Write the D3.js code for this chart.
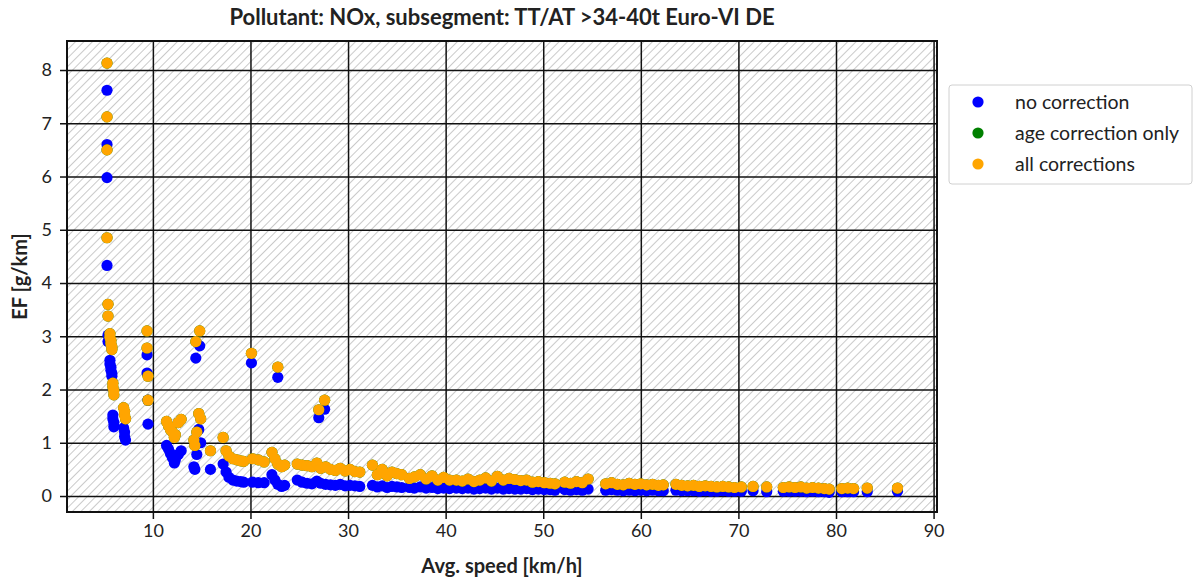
<!DOCTYPE html>
<html>
<head>
<meta charset="utf-8">
<script src="https://cdn.jsdelivr.net/npm/d3@7"></script>
<style>
body { margin: 0; background: #fff; }
svg text { font-family: Lato, "Open Sans", sans-serif; fill: #222; }
</style>
</head>
<body>
<div id="chart"></div>
<script>

// average speed of each traffic situation [km/h]
var speed = [
5.3, 5.3, 5.3, 5.3, 5.4, 5.4, 5.6, 5.6, 5.7, 5.7, 5.8, 5.8, 5.9, 5.9, 6.0, 6.0,
7.0, 7.1, 7.1, 7.2, 9.4, 9.4, 9.5, 9.5,
11.4, 11.6, 11.8, 12.0, 12.2, 12.3, 12.6, 12.9,
14.2, 14.3, 14.4, 14.5, 14.7, 14.8, 14.9, 15.9,
17.2, 17.5, 17.8, 18.2, 18.6, 19.0, 19.3, 20.1, 20.2, 20.8, 21.4,
22.2, 22.5, 22.8, 22.8, 23.2, 23.5,
24.8, 25.3, 25.8, 26.3, 26.8, 27.0, 27.2, 27.6, 27.7, 28.2, 28.7, 29.2, 29.7, 30.2, 30.7, 31.2,
32.5, 33.0, 33.5, 34.0, 34.5, 35.0, 35.5,
36.3, 36.8, 37.4, 38.0, 38.6, 39.2, 39.8, 40.4,
41.1, 41.7, 42.3, 42.9, 43.5, 44.1, 44.7, 45.3, 45.9, 46.5, 47.1, 47.7, 48.3, 48.9, 49.5, 50.1, 50.7, 51.2,
52.2, 52.8, 53.4, 54.0, 54.6,
56.4, 57.0, 57.6, 58.2, 58.8, 59.4, 60.0, 60.6, 61.2, 61.8, 62.3,
63.6, 64.2, 64.8, 65.4, 66.0, 66.6, 67.2, 67.8, 68.4, 69.0, 69.6, 70.3,
71.5, 72.9,
74.6, 75.2, 75.8, 76.4, 77.0, 77.6, 78.2, 78.8, 79.3,
80.6, 81.2, 81.8, 83.2, 86.3
]

// EF [g/km], no correction
var noCorrection = [
7.62, 6.60, 5.98, 4.33, 3.02, 2.90, 2.55, 2.48, 2.42, 2.36, 2.30, 2.25, 1.52, 1.45, 1.38, 1.30,
1.28, 1.20, 1.12, 1.05, 2.65, 2.31, 1.80, 1.35,
0.95, 0.88, 0.80, 0.72, 0.62, 0.68, 0.78, 0.85,
0.55, 0.50, 2.59, 0.78, 1.25, 2.82, 1.00, 0.50,
0.60, 0.45, 0.35, 0.30, 0.28, 0.27, 0.26, 2.50, 0.26, 0.25, 0.25,
0.40, 0.30, 2.23, 0.22, 0.18, 0.20,
0.30, 0.26, 0.24, 0.23, 0.28, 1.47, 0.24, 1.63, 0.22, 0.21, 0.20, 0.22, 0.19, 0.20, 0.19, 0.18,
0.20, 0.17, 0.19, 0.16, 0.18, 0.17, 0.16,
0.16, 0.15, 0.17, 0.15, 0.16, 0.14, 0.15, 0.14,
0.15, 0.14, 0.15, 0.13, 0.14, 0.15, 0.13, 0.15, 0.13, 0.14, 0.13, 0.13, 0.14, 0.12, 0.13, 0.12, 0.12, 0.11,
0.12, 0.11, 0.12, 0.11, 0.13,
0.11, 0.12, 0.11, 0.10, 0.11, 0.10, 0.11, 0.10, 0.11, 0.10, 0.10,
0.11, 0.10, 0.10, 0.10, 0.09, 0.10, 0.09, 0.09, 0.10, 0.09, 0.09, 0.09,
0.10, 0.08,
0.09, 0.09, 0.09, 0.09, 0.08, 0.09, 0.08, 0.08, 0.07,
0.08, 0.08, 0.08, 0.08, 0.09
]

// EF [g/km], age correction only
var ageCorrectionOnly = [
8.13, 7.12, 6.50, 4.85, 3.60, 3.38, 3.05, 2.98, 2.92, 2.86, 2.80, 2.75, 2.12, 2.05, 1.98, 1.90,
1.66, 1.59, 1.52, 1.45, 3.10, 2.78, 2.25, 1.80,
1.40, 1.32, 1.25, 1.20, 1.10, 1.15, 1.38, 1.44,
1.05, 0.95, 2.90, 1.20, 1.55, 3.10, 1.45, 0.85,
1.10, 0.85, 0.75, 0.70, 0.68, 0.66, 0.65, 2.68, 0.70, 0.68, 0.64,
0.82, 0.70, 2.42, 0.60, 0.55, 0.58,
0.60, 0.58, 0.57, 0.55, 0.62, 1.62, 0.52, 1.80, 0.55, 0.50, 0.48, 0.52, 0.47, 0.50, 0.46, 0.45,
0.58, 0.40, 0.50, 0.38, 0.45, 0.42, 0.40,
0.33, 0.36, 0.40, 0.32, 0.38, 0.30, 0.35, 0.30,
0.30, 0.28, 0.32, 0.27, 0.30, 0.34, 0.28, 0.37, 0.30, 0.33, 0.31, 0.29, 0.30, 0.26, 0.27, 0.25, 0.24, 0.23,
0.26, 0.24, 0.27, 0.25, 0.32,
0.23, 0.25, 0.22, 0.21, 0.24, 0.22, 0.23, 0.21, 0.22, 0.20, 0.21,
0.22, 0.20, 0.19, 0.20, 0.18, 0.19, 0.18, 0.17, 0.18, 0.17, 0.16, 0.17,
0.18, 0.17,
0.16, 0.17, 0.16, 0.17, 0.15, 0.16, 0.15, 0.14, 0.13,
0.14, 0.15, 0.14, 0.15, 0.15
]

// EF [g/km], all corrections
var allCorrections = [
8.13, 7.12, 6.50, 4.85, 3.60, 3.38, 3.05, 2.98, 2.92, 2.86, 2.80, 2.75, 2.12, 2.05, 1.98, 1.90,
1.66, 1.59, 1.52, 1.45, 3.10, 2.78, 2.25, 1.80,
1.40, 1.32, 1.25, 1.20, 1.10, 1.15, 1.38, 1.44,
1.05, 0.95, 2.90, 1.20, 1.55, 3.10, 1.45, 0.85,
1.10, 0.85, 0.75, 0.70, 0.68, 0.66, 0.65, 2.68, 0.70, 0.68, 0.64,
0.82, 0.70, 2.42, 0.60, 0.55, 0.58,
0.60, 0.58, 0.57, 0.55, 0.62, 1.62, 0.52, 1.80, 0.55, 0.50, 0.48, 0.52, 0.47, 0.50, 0.46, 0.45,
0.58, 0.40, 0.50, 0.38, 0.45, 0.42, 0.40,
0.33, 0.36, 0.40, 0.32, 0.38, 0.30, 0.35, 0.30,
0.30, 0.28, 0.32, 0.27, 0.30, 0.34, 0.28, 0.37, 0.30, 0.33, 0.31, 0.29, 0.30, 0.26, 0.27, 0.25, 0.24, 0.23,
0.26, 0.24, 0.27, 0.25, 0.32,
0.23, 0.25, 0.22, 0.21, 0.24, 0.22, 0.23, 0.21, 0.22, 0.20, 0.21,
0.22, 0.20, 0.19, 0.20, 0.18, 0.19, 0.18, 0.17, 0.18, 0.17, 0.16, 0.17,
0.18, 0.17,
0.16, 0.17, 0.16, 0.17, 0.15, 0.16, 0.15, 0.14, 0.13,
0.14, 0.15, 0.14, 0.15, 0.15
]

var seriesNames = ["no correction", "age correction only", "all corrections"]
var seriesColors = ["#0000ff", "#008000", "#ffa500"]
var seriesValues = [noCorrection, ageCorrectionOnly, allCorrections]

var xTicks = [10, 20, 30, 40, 50, 60, 70, 80, 90]
var yTicks = [0, 1, 2, 3, 4, 5, 6, 7, 8]

var title = "Pollutant: NOx, subsegment: TT/AT >34-40t Euro-VI DE"


var margins = {
top: 41,
bottom: 71,
left: 67,
right: 258
}

var width = 1195 - margins.left - margins.right
var height = 583 - margins.top - margins.bottom

var svg = d3.select("#chart")
.append("svg")
.attr("width", 1195)
.attr("height", 583)

//hatch pattern for the plot background
var pattern = svg.append("defs")
.append("pattern")
.attr("id", "hatch")
.attr("patternUnits", "userSpaceOnUse")
.attr("width", 6)
.attr("height", 6)
.attr("patternTransform", "rotate(45)")

pattern.append("rect")
.attr("width", 6)
.attr("height", 6)
.style("fill", "#fff")

pattern.append("line")
.attr("x1", 0).attr("y1", 0)
.attr("x2", 0).attr("y2", 6)
.style("stroke", "#bdbdbd")
.style("stroke-width", 1.6)

var xScale = d3.scaleLinear().domain([1.2, 90.35]).range([0, width])
var yScale = d3.scaleLinear().domain([-0.3, 8.545]).range([height, 0])

var g = svg.append("g")
.attr("transform", "translate(" + margins.left + "," + margins.top + ")")

g.append("rect")
.attr("width", width)
.attr("height", height)
.style("fill", "url(#hatch)")

//grid lines
g.append("g")
.attr("class", "grid")
.call(d3.axisBottom(xScale).tickValues(xTicks).tickSize(height).tickFormat(""))
.call(function(s){ s.select(".domain").remove() })

g.append("g")
.attr("class", "grid")
.call(d3.axisLeft(yScale).tickValues(yTicks).tickSize(-width).tickFormat(""))
.call(function(s){ s.select(".domain").remove() })

g.selectAll(".grid line")
.style("stroke", "#111")
.style("stroke-width", 1.5)

//points, one layer per series
for(var i = 0; i < seriesValues.length; i++){
var values = seriesValues[i]
g.append("g")
.selectAll("circle")
.data(speed)
.enter()
.append("circle")
.attr("cx", function(d){ return xScale(d) })
.attr("cy", function(d, j){ return yScale(values[j]) })
.attr("r", 5.6)
.style("fill", seriesColors[i])
}

//axes
var xAxis = g.append("g")
.attr("transform", "translate(0," + height + ")")
.call(d3.axisBottom(xScale).tickValues(xTicks).tickSize(7).tickPadding(5))

var yAxis = g.append("g")
.call(d3.axisLeft(yScale).tickValues(yTicks).tickSize(7).tickPadding(8))

svg.selectAll(".tick line").style("stroke", "#111").style("stroke-width", 1.5)
xAxis.selectAll("text").style("font-size", "18px").style("fill", "#222")
yAxis.selectAll("text").style("font-size", "18px").style("fill", "#222")
xAxis.select(".domain").remove()
yAxis.select(".domain").remove()

g.append("rect")
.attr("width", width)
.attr("height", height)
.style("fill", "none")
.style("stroke", "#111")
.style("stroke-width", 2)

//title and labels
svg.append("text")
.attr("x", margins.left + width/2)
.attr("y", 25)
.attr("text-anchor", "middle")
.style("font-size", "22px")
.style("font-weight", "bold")
.text(title)

svg.append("text")
.attr("x", margins.left + width/2)
.attr("y", 573)
.attr("text-anchor", "middle")
.style("font-size", "20px")
.style("font-weight", "bold")
.text("Avg. speed [km/h]")

svg.append("text")
.attr("transform", "translate(27," + (margins.top + height/2) + ") rotate(-90)")
.attr("text-anchor", "middle")
.style("font-size", "20px")
.style("font-weight", "bold")
.text("EF [g/km]")

//legend
var legend = svg.append("g")
.attr("transform", "translate(949,85)")

legend.append("rect")
.attr("width", 243)
.attr("height", 99)
.attr("rx", 3)
.style("fill", "#fff")
.style("stroke", "#d0d0d0")
.style("stroke-width", 1)

for(var k = 0; k < seriesNames.length; k++){
legend.append("circle")
.attr("cx", 29)
.attr("cy", 17 + k*31)
.attr("r", 5.6)
.style("fill", seriesColors[k])

legend.append("text")
.attr("x", 66)
.attr("y", 17 + k*31)
.attr("dy", "0.35em")
.style("font-size", "19.5px")
.text(seriesNames[k])
}

</script>
</body>
</html>
